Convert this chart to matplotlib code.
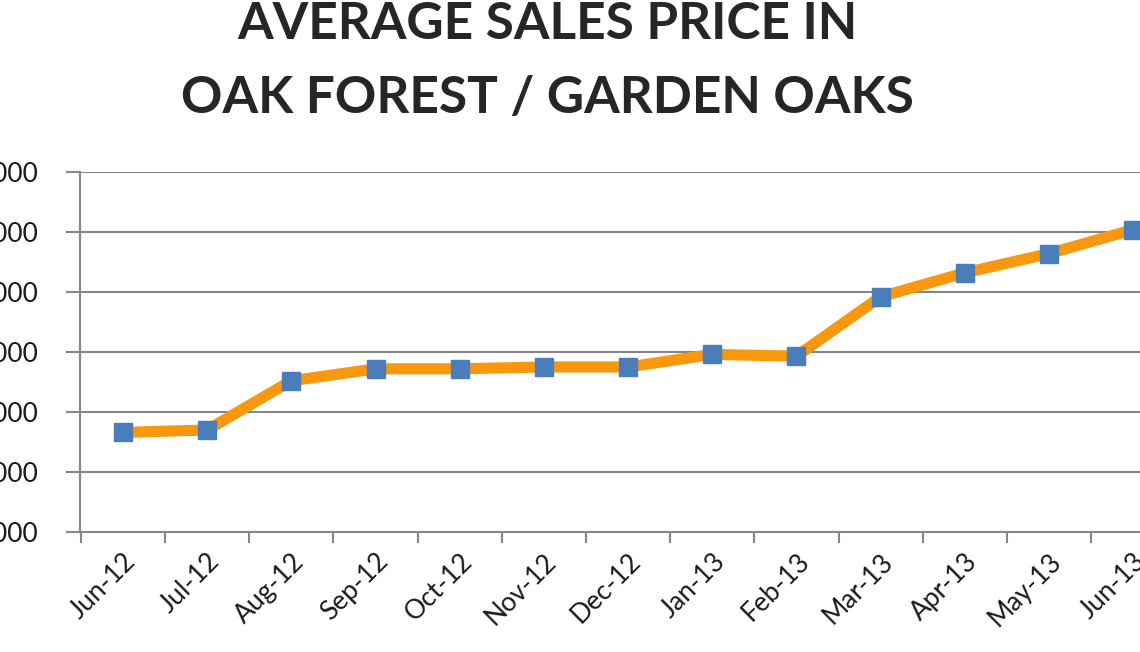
import matplotlib.pyplot as plt
import matplotlib.ticker as mticker

months = ["Jun-12", "Jul-12", "Aug-12", "Sep-12", "Oct-12", "Nov-12", "Dec-12",
          "Jan-13", "Feb-13", "Mar-13", "Apr-13", "May-13", "Jun-13"]
avg_price = [233000, 235000, 276000, 286000, 286000, 287500, 287500,
             298000, 296500, 346000, 366000, 382000, 402000]
y_ticks = [150000, 200000, 250000, 300000, 350000, 400000, 450000]

plt.rcParams['font.family'] = ['Lato', 'DejaVu Sans']

fig = plt.figure(figsize=(11.4, 6.52), dpi=100)
ax = fig.add_axes([80 / 1140, 120 / 652, 1060 / 1140, 360 / 652])

x = list(range(len(months)))
ax.plot(x, avg_price, color="#F7980F", linewidth=8, solid_joinstyle="round",
        zorder=3, clip_on=False)
ax.plot(x, avg_price, linestyle="none", marker="s", markersize=12.5,
        markerfacecolor="#4A7EBB", markeredgecolor="#4A7EBB", zorder=4,
        clip_on=False)

ax.set_yticks(y_ticks)
ax.yaxis.set_major_formatter(mticker.FuncFormatter(lambda v, p: "${:,.0f}".format(v)))
ax.grid(axis="y", color="#868686", linewidth=1.5, zorder=1)

ax.set_xticks(x)
ax.set_xticklabels(months, rotation=45, ha="right", rotation_mode="anchor",
                   fontsize=19, color="#1a1a1a")
ax.set_xticks([i - 0.5 for i in range(len(months) + 1)], minor=True)
ax.tick_params(axis="x", which="major", length=0, pad=12)
ax.tick_params(axis="x", which="minor", length=8, width=1.5, color="#868686")
ax.tick_params(axis="y", length=10, width=1.5, color="#868686", labelsize=19,
               labelcolor="#1a1a1a", pad=20)
ax.set_xlim(-0.51, 12.08)
ax.set_ylim(y_ticks[0], y_ticks[-1])

for side in ["top", "right"]:
    ax.spines[side].set_visible(False)
for side in ["left", "bottom"]:
    ax.spines[side].set_color("#868686")
    ax.spines[side].set_linewidth(1.5)

fig.text(0.48, 0.998, "AVERAGE SALES PRICE IN\nOAK FOREST / GARDEN OAKS",
         ha="center", va="top", fontsize=37, fontweight="bold", color="#262626",
         linespacing=1.7)

fig.savefig("out.png", dpi=100)
